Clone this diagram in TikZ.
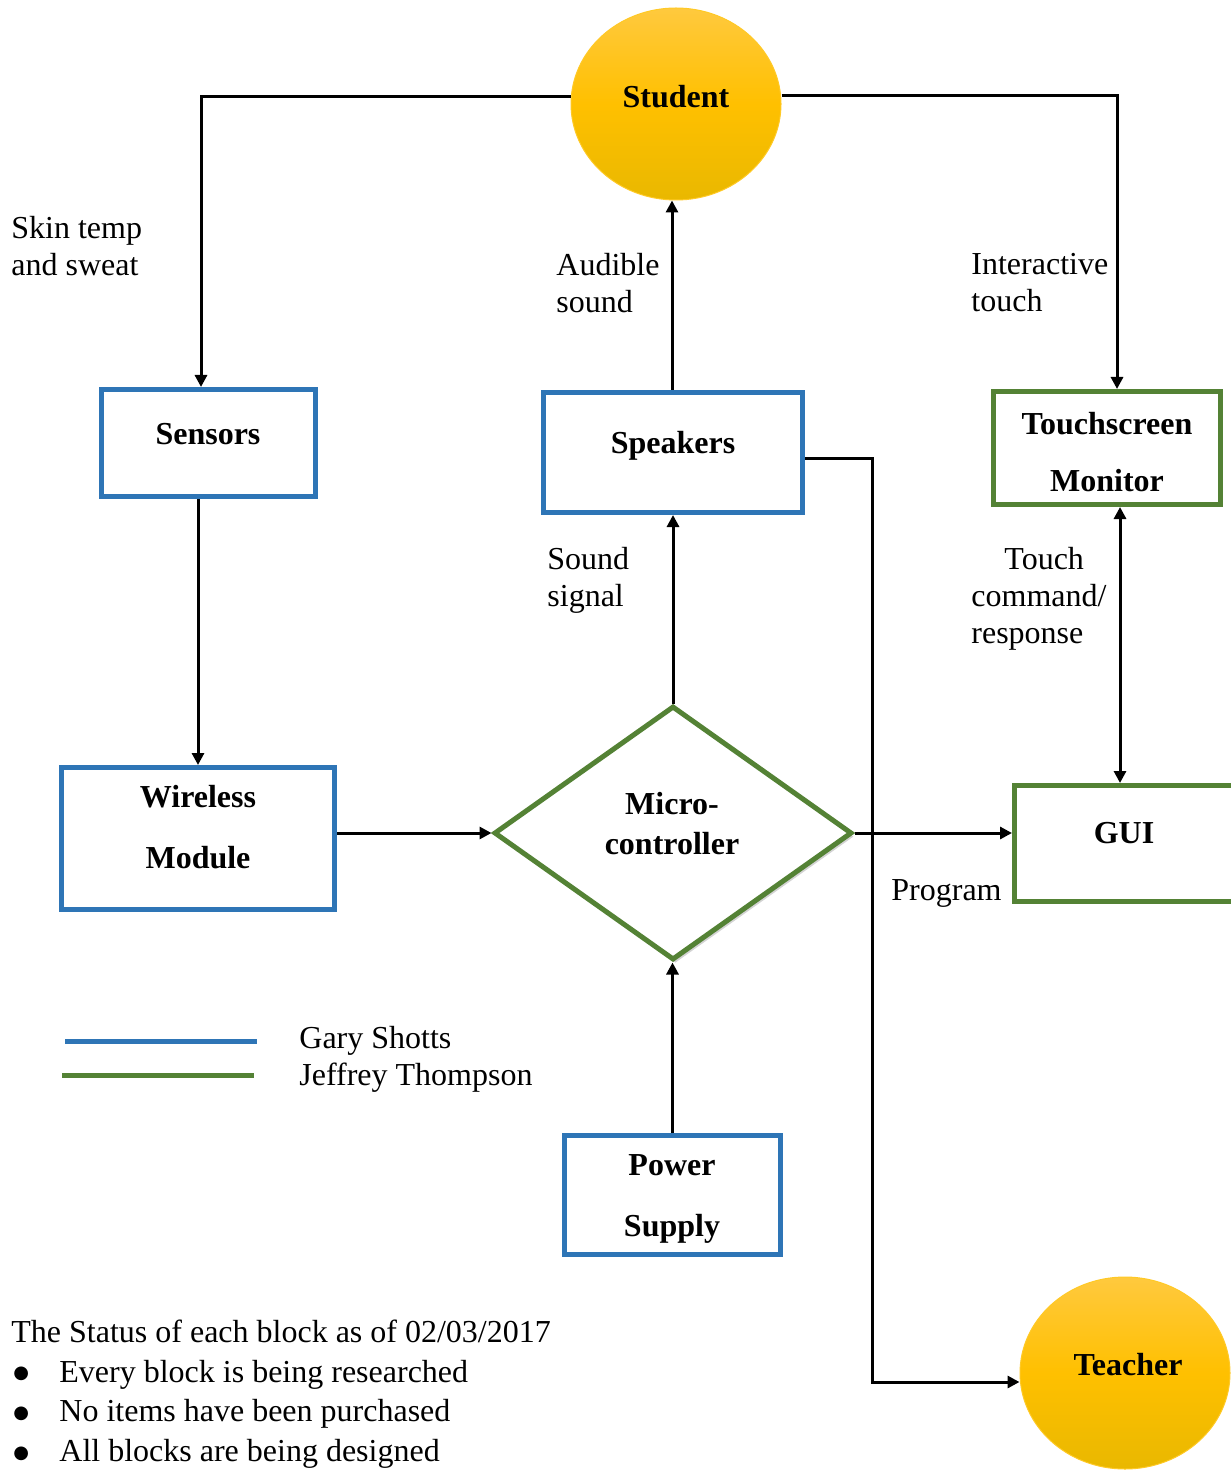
\documentclass[tikz,border=0pt]{standalone}
\usepackage{fontspec}
\setmainfont{Liberation Serif}
\newfontfamily\symfont{DejaVu Sans}
\usetikzlibrary{arrows.meta,shapes.geometric,shadows}
\definecolor{gsblue}{HTML}{2E75B6}
\definecolor{jtgreen}{HTML}{548235}
\definecolor{goldtop}{HTML}{FFC93E}
\definecolor{goldmid}{HTML}{FFC000}
\definecolor{goldbot}{HTML}{E9B800}
\newcommand{\bigbul}{\makebox[24pt][l]{\hspace*{1pt}\raisebox{1.6pt}{\symfont\fontsize{9}{0}\selectfont ●}}}
\begin{document}
\begin{tikzpicture}[x=0.5pt,y=-0.5pt,
  txt/.style={font=\fontsize{16}{18.5}\selectfont, inner sep=0pt, align=left, anchor=west},
  btxt/.style={font=\fontsize{16}{18.5}\selectfont\bfseries, inner sep=0pt, align=center},
  bluebox/.style={draw=gsblue, line width=2.5pt, rectangle, inner sep=0pt, fill=white},
  greenbox/.style={draw=jtgreen, line width=2.5pt, rectangle, inner sep=0pt, fill=white},
  actor/.style={ellipse, inner sep=0pt, top color=goldtop, bottom color=goldbot, middle color=goldmid,
     draw=goldmid!85!white, line width=0.5pt, minimum width=105pt, minimum height=96pt},
  tipa/.tip={Triangle[length=6pt,width=6pt]},
  conn/.style={line width=1.5pt, -tipa},
  legendline/.style={line width=2.5pt},
]
\useasboundingbox (0,0) rectangle (1230,1470);

% actors
\node[actor] (student) at (676,104) {};
\node[btxt] (studentT) at (676,97) {Student};
\node[actor] (teacher) at (1125,1373) {};
\node[btxt] (teacherT) at (1128,1365) {Teacher};

% blocks
\node[bluebox, minimum width=107pt, minimum height=53.5pt] (sensors) at (208.5,443) {};
\node[btxt] (sensorsT) at (208,434) {Sensors};
\node[bluebox, minimum width=129.5pt, minimum height=60pt] (speakers) at (673,452.5) {};
\node[btxt] (speakersT) at (673,446) {Speakers};
\node[greenbox, minimum width=113.5pt, minimum height=56.5pt] (touch) at (1107,448) {};
\node[btxt, font=\fontsize{16}{28.5}\selectfont\bfseries] (touchT) at (1107,452) {Touchscreen\\Monitor};
\node[bluebox, minimum width=136.5pt, minimum height=71pt] (wireless) at (198,838.5) {};
\node[btxt, font=\fontsize{16}{30.5}\selectfont\bfseries] (wirelessT) at (198,827) {Wireless\\Module};
\node[greenbox, minimum width=112.5pt, minimum height=58pt] (gui) at (1127,843.5) {};
\node[btxt] (guiT) at (1124,833) {GUI};
\node[bluebox, minimum width=108pt, minimum height=59.5pt] (power) at (672.5,1195) {};
\node[btxt, font=\fontsize{16}{30.5}\selectfont\bfseries] (powerT) at (672,1199) {Power\\Supply};
\node[diamond, draw=jtgreen, line width=2.5pt, fill=white, inner sep=0pt,
      minimum width=179pt, minimum height=127pt,
      drop shadow={shadow xshift=1.2pt, shadow yshift=-1.8pt, opacity=0.35, fill=black!50}] (micro) at (673,833) {};
\node[btxt, font=\fontsize{16}{20}\selectfont\bfseries] (microT) at (672,823.5) {Micro-\\controller};

% connectors
\draw[conn] ([yshift=3.5pt]student.west) -| ([xshift=-3.75pt]sensors.north);
\draw[conn] ([yshift=4pt]student.east) -| ([xshift=5pt]touch.north);
\draw[conn] ([xshift=-0.5pt]speakers.north) -- ([xshift=-0.5pt]speakers.north |- student.south);
\draw[conn] (wireless.north |- sensors.south) -- (wireless.north);
\draw[conn] (wireless.east |- micro.west) -- (micro.west);
\draw[conn] (micro.north) -- (micro.north |- speakers.south);
\draw[conn] (power.north) -- (power.north |- micro.south);
\draw[conn] (micro.east) -- (micro.east -| gui.west);
\draw[line width=1.5pt, tipa-tipa] ([xshift=6.5pt]touch.south) -- ([xshift=6.5pt]touch.south |- gui.north);
\draw[conn] ([yshift=-2.75pt]speakers.east) -- ++(67,0) |- ([yshift=-4.5pt]teacher.west);

% connector labels
\node[txt] (lskin) at (11,246) {Skin temp\\and sweat};
\node[txt] (laud) at (556,283) {Audible\\sound};
\node[txt] (linter) at (971,283) {Interactive\\touch};
\node[txt] (lsound) at (547,580) {Sound\\signal};
\node[txt] (ltouch) at (971,598.5) {\hspace*{16.5pt}Touch\\command/\\response};
\node[txt] (lprog) at (891,893.5) {Program};

% legend
\coordinate (lb1) at (65,1041); \coordinate (lb2) at (257,1041);
\coordinate (lg1) at (62,1075); \coordinate (lg2) at (254,1075);
\draw[legendline, gsblue] (lb1) -- (lb2);
\draw[legendline, jtgreen] (lg1) -- (lg2);
\node[txt] (legendT) at (299,1059) {Gary Shotts\\Jeffrey Thompson};

% status
\node[txt, font=\fontsize{16}{19.8}\selectfont] (status) at (11,1394) {The Status of each block as of 02/03/2017\\
\bigbul Every block is being researched\\
\bigbul No items have been purchased\\
\bigbul All blocks are being designed};
\end{tikzpicture}
\end{document}
